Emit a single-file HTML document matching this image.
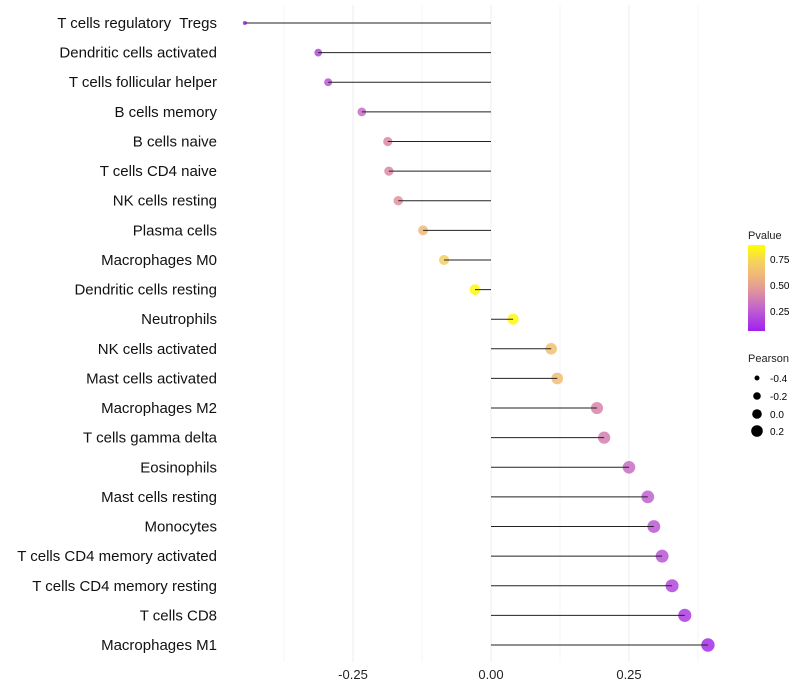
<!DOCTYPE html>
<html><head><meta charset="utf-8"><style>
body{margin:0;background:#fff;font-family:"Liberation Sans",sans-serif}
svg{display:block}
</style></head><body>
<svg id="c" width="800" height="700">
<defs><linearGradient id="pg" x1="0" y1="1" x2="0" y2="0">
<stop offset="0" stop-color="#a020f0"/><stop offset="0.25" stop-color="#c060d0"/><stop offset="0.45" stop-color="#de90a0"/><stop offset="0.65" stop-color="#f0b878"/><stop offset="0.8" stop-color="#f5d060"/><stop offset="1" stop-color="#ffff00"/></linearGradient></defs>
<g id="grid"></g><g id="marks"></g><g id="labels"></g>
<g font-size="10">
<text x="748" y="239" font-size="11" fill="#222">Pvalue</text>
<rect x="748" y="245" width="17" height="86" fill="url(#pg)"/>
<text x="770" y="263">0.75</text><text x="770" y="289">0.50</text><text x="770" y="315">0.25</text>
</g>
<g font-size="10">
<text x="748" y="362" font-size="11" fill="#222">Pearson</text>
<circle cx="757" cy="378" r="2.5"/><text x="770" y="382">-0.4</text>
<circle cx="757" cy="396" r="3.8"/><text x="770" y="400">-0.2</text>
<circle cx="757" cy="414" r="4.8"/><text x="770" y="418">0.0</text>
<circle cx="757" cy="431" r="5.8"/><text x="770" y="435">0.2</text>
</g>
</svg>
<script>
const categories=["T cells regulatory  Tregs","Dendritic cells activated","T cells follicular helper","B cells memory","B cells naive","T cells CD4 naive","NK cells resting","Plasma cells","Macrophages M0","Dendritic cells resting","Neutrophils","NK cells activated","Mast cells activated","Macrophages M2","T cells gamma delta","Eosinophils","Mast cells resting","Monocytes","T cells CD4 memory activated","T cells CD4 memory resting","T cells CD8","Macrophages M1"];
const pearson=[-0.446,-0.313,-0.295,-0.234,-0.187,-0.185,-0.168,-0.123,-0.085,-0.029,0.040,0.109,0.120,0.192,0.205,0.250,0.284,0.295,0.310,0.328,0.351,0.393];
const pvalues=[0.03,0.15,0.2,0.3,0.42,0.42,0.46,0.65,0.8,0.97,0.97,0.7,0.68,0.4,0.38,0.3,0.25,0.22,0.2,0.15,0.1,0.05];
const xTicks=[-0.25,0,0.25];
const xTickLabels=["-0.25","0.00","0.25"];
const minorTicks=[-0.375,-0.125,0.125,0.375];
const NS="http://www.w3.org/2000/svg";
function X(v){return 491+v*552;}
function Y(i){return 23+i*(622/(categories.length-1));}
function R(v){return 2+4.7*Math.sqrt(Math.max(0,(v+0.446)/0.839));}
function col(p){
 const st=[[0,[160,32,240]],[0.25,[192,96,208]],[0.45,[222,144,160]],[0.65,[240,184,120]],[0.8,[245,208,96]],[1,[255,255,0]]];
 for(let k=1;k<st.length;k++){if(p<=st[k][0]){const a=st[k-1],b=st[k],t=(p-a[0])/(b[0]-a[0]);
 return "rgb("+a[1].map((c,j)=>Math.round(c+(b[1][j]-c)*t)).join(",")+")";}}
 return "rgb(255,255,0)";}
function el(t,a,p){const e=document.createElementNS(NS,t);for(const k in a)e.setAttribute(k,a[k]);p.appendChild(e);return e;}
const g=document.getElementById("grid"),m=document.getElementById("marks"),lb=document.getElementById("labels");
minorTicks.forEach(v=>{const l=el("line",{x1:X(v),x2:X(v),y1:5,y2:662,stroke:"#f4f4f4","stroke-width":1},g);

});
xTicks.forEach((v,i)=>{const l=el("line",{x1:X(v),x2:X(v),y1:5,y2:662,stroke:"#ededed","stroke-width":1},g);


const t=el("text",{x:X(v),y:679,"text-anchor":"middle","font-size":13,fill:"#222"},lb);t.textContent=xTickLabels[i];

});
categories.forEach((c,i)=>{const y=Y(i);
const ci=el("circle",{cx:X(pearson[i]),cy:y,r:R(pearson[i]),fill:col(pvalues[i]),"fill-opacity":0.85},m);


const l=el("line",{x1:X(0),x2:X(pearson[i]),y1:y,y2:y,stroke:"#222","stroke-width":1},m);


const t=el("text",{x:217,y:y+5,"text-anchor":"end","font-size":15,fill:"#111","xml:space":"preserve"},lb);
t.style.whiteSpace="pre";
t.textContent=c;

});
</script>
</body></html>
